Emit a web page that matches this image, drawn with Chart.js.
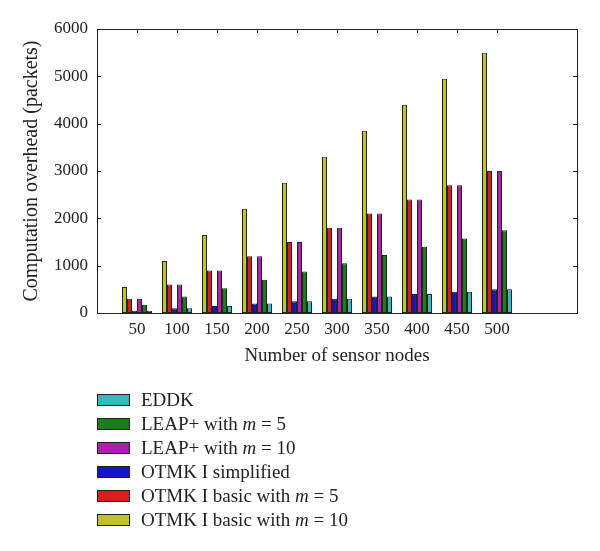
<!DOCTYPE html>
<html>
<head>
<meta charset="utf-8">
<script src="https://cdn.jsdelivr.net/npm/chart.js@4/dist/chart.umd.min.js"></script>
<style>
  html, body { margin: 0; padding: 0; background: #fff; }
  #wrap { position: relative; width: 600px; height: 551px; }
  #legend { position: absolute; left: 97px; top: 388px; font-family: "Liberation Serif", "Times New Roman", serif; font-size: 19px; color: #222; }
  .row { height: 24px; display: flex; align-items: center; }
  .box { width: 31px; height: 10px; border: 1px solid #222; margin-right: 11px; }
</style>
</head>
<body>
<div id="wrap">
  <canvas id="c" width="600" height="551"></canvas>
  <div id="legend"></div>
</div>
<script>
// Data
const nodes = [50, 100, 150, 200, 250, 300, 350, 400, 450, 500];
const otmkBasic10 = [550, 1100, 1650, 2200, 2750, 3300, 3850, 4400, 4950, 5500];
const otmkBasic5 = [300, 600, 900, 1200, 1500, 1800, 2100, 2400, 2700, 3000];
const otmkSimplified = [50, 100, 150, 200, 250, 300, 350, 400, 450, 500];
const leap10 = [300, 600, 900, 1200, 1500, 1800, 2100, 2400, 2700, 3000];
const leap5 = [175, 350, 525, 700, 875, 1050, 1225, 1400, 1575, 1750];
const eddk = [50, 100, 150, 200, 250, 300, 350, 400, 450, 500];
const yTicks = [0, 1000, 2000, 3000, 4000, 5000, 6000];

const seriesNames = ['OTMK I basic with m = 10', 'OTMK I basic with m = 5', 'OTMK I simplified',
                     'LEAP+ with m = 10', 'LEAP+ with m = 5', 'EDDK'];
const seriesValues = [otmkBasic10, otmkBasic5, otmkSimplified, leap10, leap5, eddk];
const seriesColors = ['#c2c22e', '#de1c1c', '#1616cc', '#b020b0', '#1a7e1a', '#30baba'];

const toPoints = arr => arr.map((v, i) => ({ x: i + 1, y: v }));

const serif = '"Liberation Serif", "Times New Roman", serif';
const ink = '#222';

const boxTicks = {
  id: 'boxTicks',
  beforeDatasetsDraw(chart) {
    const { ctx, chartArea: a, scales } = chart;
    ctx.save();
    ctx.strokeStyle = ink; ctx.lineWidth = 1;
    ctx.beginPath();
    const L = 4;
    yTicks.forEach(v => {
      const y = Math.round(scales.y.getPixelForValue(v)) + 0.5;
      ctx.moveTo(a.left, y); ctx.lineTo(a.left + L, y);
      ctx.moveTo(a.right, y); ctx.lineTo(a.right - L, y);
    });
    nodes.forEach((n, i) => {
      const x = Math.round(scales.x.getPixelForValue(i + 1)) + 0.5;
      ctx.moveTo(x, a.top); ctx.lineTo(x, a.top + L);
      ctx.moveTo(x, a.bottom); ctx.lineTo(x, a.bottom - L);
    });
    ctx.stroke();
    ctx.restore();
  },
  afterDatasetsDraw(chart) {
    const { ctx, chartArea: a } = chart;
    ctx.save();
    ctx.strokeStyle = ink; ctx.lineWidth = 1;
    ctx.strokeRect(Math.round(a.left) + 0.5, Math.round(a.top) + 0.5,
                   Math.round(a.right - a.left), Math.round(a.bottom - a.top));
    ctx.restore();
  }
};

const chart = new Chart(document.getElementById('c'), {
  type: 'bar',
  data: {
    datasets: seriesNames.map((name, k) => ({
      label: name,
      data: toPoints(seriesValues[k]),
      backgroundColor: seriesColors[k],
      borderColor: ink,
      borderWidth: 1,
      borderSkipped: false,
      inflateAmount: 0,
      categoryPercentage: 0.75,
      barPercentage: 1.0
    }))
  },
  options: {
    responsive: false,
    maintainAspectRatio: false,
    animation: false,
    layout: { padding: { left: 0, right: 23, top: 29, bottom: 180 } },
    plugins: { legend: { display: false }, tooltip: { enabled: false } },
    scales: {
      x: {
        type: 'linear', min: 0, max: 12, offset: false,
        grid: { display: false, drawTicks: false },
        border: { display: false },
        ticks: {
          stepSize: 1, autoSkip: false, maxRotation: 0, padding: 6,
          color: ink, font: { family: serif, size: 17 },
          callback: v => (v >= 1 && v <= nodes.length ? String(nodes[v - 1]) : '')
        },
        title: { display: true, text: 'Number of sensor nodes', color: ink,
                 font: { family: serif, size: 19 }, padding: { top: 0, bottom: 4 } },
        afterFit: s => { s.height = 58; }
      },
      y: {
        min: 0, max: 6000,
        grid: { display: false, drawTicks: false },
        border: { display: false },
        ticks: { stepSize: 1000, padding: 9, color: ink, font: { family: serif, size: 17 },
                 callback: v => String(v) },
        title: { display: true, text: 'Computation overhead (packets)', color: ink,
                 font: { family: serif, size: 20 }, padding: { top: 20, bottom: 0 } },
        afterFit: s => { s.width = 97; }
      }
    }
  },
  plugins: [boxTicks]
});

// HTML legend, reversed order like the reference
const legendEl = document.getElementById('legend');
chart.data.datasets.slice().reverse().forEach(ds => {
  const row = document.createElement('div'); row.className = 'row';
  const box = document.createElement('div'); box.className = 'box';
  box.style.background = ds.backgroundColor;
  row.appendChild(box);
  const span = document.createElement('span');
  const parts = ds.label.split(' m ');
  span.appendChild(document.createTextNode(parts[0]));
  if (parts.length > 1) {
    span.appendChild(document.createTextNode(' '));
    const it = document.createElement('i'); it.textContent = 'm';
    span.appendChild(it);
    span.appendChild(document.createTextNode(' ' + parts[1]));
  }
  row.appendChild(span);
  legendEl.appendChild(row);
});
</script>
</body>
</html>
